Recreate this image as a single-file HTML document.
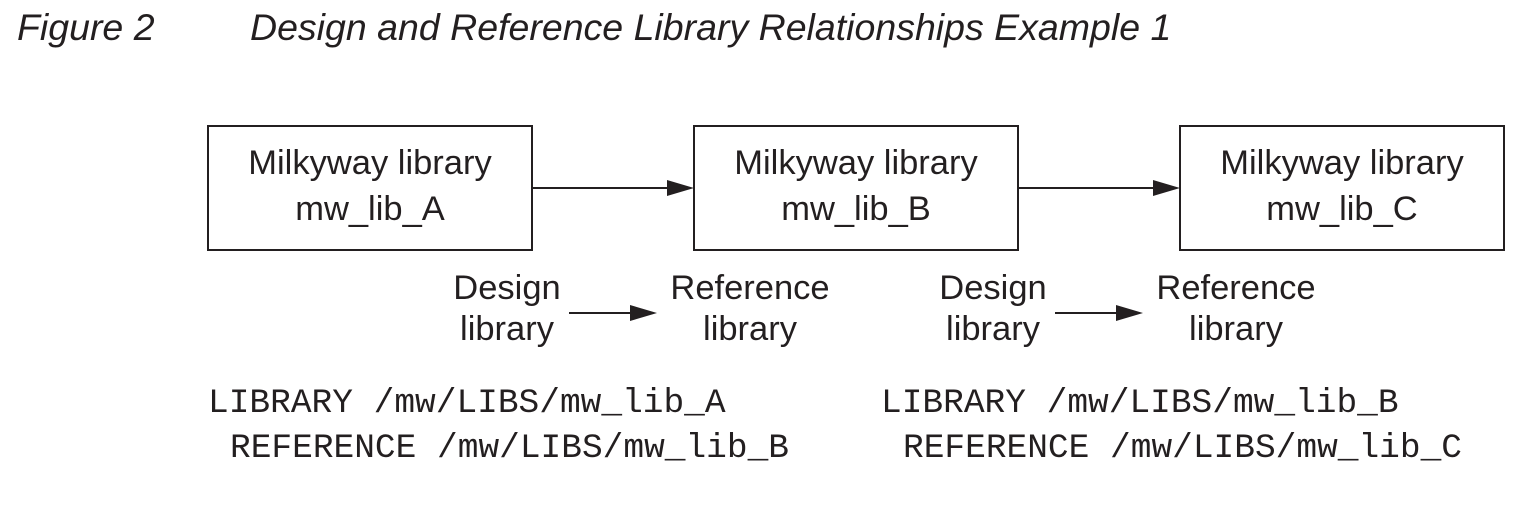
<!DOCTYPE html>
<html><head><meta charset="utf-8"><style>
html,body{margin:0;padding:0;background:#fff;}
svg{display:block}
.s{font-family:"Liberation Sans",sans-serif;font-size:34.5px;fill:#231f20}
.m{font-family:"Liberation Mono",monospace;font-size:34.5px;fill:#231f20}
.t{font-family:"Liberation Sans",sans-serif;font-size:37.5px;font-style:italic;fill:#231f20}
</style></head><body>
<svg width="1540" height="512" viewBox="0 0 1540 512" xmlns="http://www.w3.org/2000/svg">
<text class="t" x="17" y="40">Figure 2</text>
<text class="t" x="250" y="40">Design and Reference Library Relationships Example 1</text>
<g fill="none" stroke="#231f20" stroke-width="2">
<rect x="208" y="126" width="324" height="124"/>
<rect x="694" y="126" width="324" height="124"/>
<rect x="1180" y="126" width="324" height="124"/>
<line x1="532" y1="188" x2="670" y2="188"/>
<line x1="1018" y1="188" x2="1156" y2="188"/>
<line x1="569" y1="313" x2="634" y2="313"/>
<line x1="1055" y1="313" x2="1120" y2="313"/>
</g>
<g fill="#231f20">
<polygon points="694,188 667,180 667,196"/>
<polygon points="1180,188 1153,180 1153,196"/>
<polygon points="657,313 630,305 630,321"/>
<polygon points="1143,313 1116,305 1116,321"/>
</g>
<g class="s" text-anchor="middle">
<text x="370" y="174">Milkyway library</text><text x="370" y="220">mw_lib_A</text>
<text x="856" y="174">Milkyway library</text><text x="856" y="220">mw_lib_B</text>
<text x="1342" y="174">Milkyway library</text><text x="1342" y="220">mw_lib_C</text>
<text x="507" y="299">Design</text><text x="507" y="340">library</text>
<text x="750" y="299">Reference</text><text x="750" y="340">library</text>
<text x="993" y="299">Design</text><text x="993" y="340">library</text>
<text x="1236" y="299">Reference</text><text x="1236" y="340">library</text>
</g>
<text class="m" x="208" y="412" xml:space="preserve">LIBRARY /mw/LIBS/mw_lib_A</text>
<text class="m" x="230" y="457" xml:space="preserve">REFERENCE /mw/LIBS/mw_lib_B</text>
<text class="m" x="881" y="412" xml:space="preserve">LIBRARY /mw/LIBS/mw_lib_B</text>
<text class="m" x="903" y="457" xml:space="preserve">REFERENCE /mw/LIBS/mw_lib_C</text>
</svg>
</body></html>
